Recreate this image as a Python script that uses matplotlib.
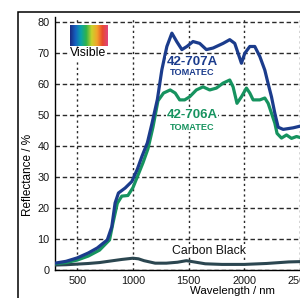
import numpy as np
import matplotlib
matplotlib.use('Agg')
import matplotlib.pyplot as plt
from matplotlib.colors import LinearSegmentedColormap
from matplotlib.patches import Rectangle

plt.rcParams['font.family'] = ['Liberation Sans', 'DejaVu Sans']

# Reflectance curves
wl_707 = [300, 400, 500, 600, 680, 770, 810, 840, 870, 930, 990, 1040, 1080, 1130,
          1170, 1220, 1260, 1305, 1350, 1395, 1440, 1485, 1540, 1600, 1660, 1720,
          1810, 1870, 1915, 1945, 1975, 2005, 2050, 2095, 2140, 2185, 2215, 2245,
          2275, 2305, 2350, 2440, 2520, 2600]
r_707 = [2.2, 2.8, 3.9, 5.5, 7.1, 9.7, 13.9, 21.6, 24.8, 26.4, 28.5, 32.5, 36.5, 41,
         47, 55, 64.5, 72, 76.3, 73.5, 71, 72, 73.6, 73, 71, 71.5,
         73, 74.2, 73, 69.8, 66.6, 69.8, 72, 72, 68.8, 64.4, 60, 55.8,
         50.5, 46, 45.3, 45.8, 46.5, 47]

wl_706 = [300, 400, 500, 600, 700, 790, 820, 860, 900, 955, 1000, 1045, 1090, 1135,
          1180, 1225, 1275, 1335, 1380, 1420, 1465, 1510, 1570, 1630, 1690, 1750,
          1810, 1870, 1900, 1935, 1975, 2020, 2050, 2080, 2140, 2185, 2215, 2245,
          2275, 2295, 2335, 2380, 2425, 2470, 2520, 2600]
r_706 = [2.0, 2.4, 3.2, 4.5, 6.4, 9.7, 15, 21.5, 23.8, 24, 26.5, 30.5, 34.5, 39,
         46, 54.5, 57, 58, 57, 54.8, 54.8, 55.8, 58, 59, 58, 58.6,
         60.2, 61.2, 59, 53.7, 55.8, 58.6, 57, 54.8, 54.8, 55.4, 53.7, 50.5,
         47.3, 44, 42.5, 43.5, 42.4, 43, 42.5, 43]

wl_cb = [300, 400, 500, 600, 700, 800, 900, 1000, 1050, 1100, 1200, 1300, 1400,
         1480, 1550, 1650, 1800, 2000, 2200, 2400, 2600]
r_cb = [1.6, 1.7, 1.9, 2.1, 2.4, 2.9, 3.4, 3.8, 3.6, 3.0, 2.2, 2.2, 2.5,
        3.0, 2.6, 2.0, 1.8, 1.8, 2.1, 2.6, 2.8]

xticks = [500, 1000, 1500, 2000, 2500]
yticks = [0, 10, 20, 30, 40, 50, 60, 70, 80]

blue = '#1b3c8c'
green = '#16935f'
dark = '#2b4650'

fig = plt.figure(figsize=(3.0, 2.98), dpi=100)
fig.patch.set_facecolor('white')

# outer frame of the scanned figure
fig.patches.append(Rectangle((18 / 300, -0.1), 1.2, 1 - 12 / 298 + 0.1,
                             transform=fig.transFigure, fill=False,
                             edgecolor='black', linewidth=1.1))

ax = fig.add_axes([55 / 300, 28 / 298, 256 / 300, 253 / 298])
ax.set_xlim(300, 2600)
ax.set_ylim(0, 81.5)

ax.plot(wl_cb, r_cb, color=dark, lw=2.2, solid_joinstyle='round', zorder=3)
ax.plot(wl_706, r_706, color=green, lw=2.3, solid_joinstyle='round', zorder=4)
ax.plot(wl_707, r_707, color=blue, lw=2.3, solid_joinstyle='round', zorder=5)

ax.set_xticks(xticks)
ax.set_yticks(yticks)
ax.tick_params(length=0, labelsize=7.8, pad=4, colors='#151515')
ax.xaxis.grid(True, linestyle=(0, (1.6, 2.2)), color='#2a2a2a', lw=1.0)
ax.yaxis.grid(True, linestyle=(0, (3.2, 2.0)), color='#2a2a2a', lw=1.0)
ax.set_axisbelow(True)
for s in ['top', 'right']:
    ax.spines[s].set_visible(False)
for s in ['left', 'bottom']:
    ax.spines[s].set_linewidth(1.0)

ax.set_ylabel('Reflectance / %', fontsize=8.5)
ax.yaxis.set_label_coords(-21 / 256, (270 - 175) / 253)
ax.set_xlabel('Wavelength / nm', fontsize=8.2)
ax.xaxis.set_label_coords((232 - 55) / 256, -16 / 253)
ax.xaxis.label.set_va('top')

# visible spectrum swatch
cmap = LinearSegmentedColormap.from_list('vis', ['#1a2a80', '#1561c0', '#0aa3a8', '#2fb34a',
                                                 '#c9d22c', '#f3a42a', '#e84a2c', '#e0457e'])
ax.imshow(np.linspace(0, 1, 200)[None, :], cmap=cmap, aspect='auto',
          extent=[435, 768, 72.2, 78.9], zorder=6)
ax.text(600, 69.8, 'Visible', fontsize=8.8, ha='center', va='center', zorder=6,
        bbox=dict(facecolor='white', edgecolor='none', pad=0.5))

ax.text(1530, 67.0, '42-707A', color=blue, fontsize=9.5, fontweight='bold',
        ha='center', va='center', zorder=7,
        bbox=dict(facecolor='white', edgecolor='none', pad=0.3))
ax.text(1530, 63.5, 'TOMATEC', color=blue, fontsize=6.6, fontweight='bold',
        ha='center', va='center', zorder=7,
        bbox=dict(facecolor='white', edgecolor='none', pad=0.3))
ax.text(1530, 49.8, '42-706A', color=green, fontsize=9.5, fontweight='bold',
        ha='center', va='center', zorder=7,
        bbox=dict(facecolor='white', edgecolor='none', pad=0.3))
ax.text(1530, 46.0, 'TOMATEC', color=green, fontsize=6.6, fontweight='bold',
        ha='center', va='center', zorder=7,
        bbox=dict(facecolor='white', edgecolor='none', pad=0.3))
ax.text(1680, 6.2, 'Carbon Black', color='#111111', fontsize=8.8,
        ha='center', va='center', zorder=7,
        bbox=dict(facecolor='white', edgecolor='none', pad=0.3))

fig.savefig('out.png', dpi=100)
